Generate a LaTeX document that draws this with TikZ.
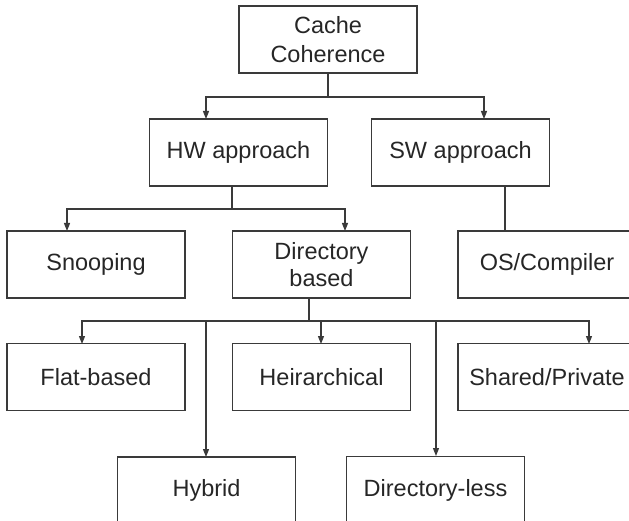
\documentclass[tikz,border=0pt]{standalone}
\usepackage{fontspec}
\setmainfont{Liberation Sans}
\usetikzlibrary{arrows.meta}
\definecolor{ink}{HTML}{262626}
\definecolor{wire}{HTML}{3A3A3A}
\begin{document}
\begin{tikzpicture}[x=1pt,y=-1pt,
  box/.style={draw=wire, line width=1.3pt, minimum width=178pt, minimum height=67pt,
    inner sep=0pt, align=center, text=ink, font=\fontsize{23.5}{27.5}\selectfont},
  link/.style={draw=wire, line width=1.3pt},
  arr/.style={link, -{Triangle[width=6pt,length=8pt]}}]
\useasboundingbox (0,0) rectangle (629,521);
\clip (0,0) rectangle (629,521);

% boxes
\node[box, font=\fontsize{23.5}{29}\selectfont] (cache) at (328,39.5) {Cache\\Coherence};
\node[box] (hw)      at (238.5,152.5) {HW approach};
\node[box] (sw)      at (460.5,152.5) {SW approach};
\node[box] (snoop)   at (96,264.5)    {Snooping};
\node[box] (dir)     at (321.5,264.5) {Directory\\based};
\node[box] (os)      at (547,264.5)   {OS/Compiler};
\node[box] (flat)    at (96,377)      {Flat-based};
\node[box] (heir)    at (321.5,377)   {Heirarchical};
\node[box] (shared)  at (547,377)     {Shared/Private};
\node[box] (hybrid)  at (206.5,490.5) {Hybrid};
\node[box] (dirless) at (435.5,490)   {Directory-less};

% junctions and arrow landing points
\coordinate (j1) at (328,97);
\coordinate (hwin) at (206,119);
\coordinate (swin) at (484,119);
\coordinate (hwout) at (232,186);
\coordinate (j2) at (232,209);
\coordinate (snoopin) at (67,231);
\coordinate (dirin) at (345,231);
\coordinate (swout) at (505,186);
\coordinate (osin) at (505,231);
\coordinate (dirout) at (309,298);
\coordinate (j3) at (309,321);
\coordinate (flatin) at (82,344);
\coordinate (heirin) at (321,344);
\coordinate (sharedin) at (589,344);
\coordinate (hybridin) at (206,457);
\coordinate (dirlessin) at (436,456);

% connectors
\draw[link] (cache.south) -- (j1);
\draw[arr] (j1) -| (hwin);
\draw[arr] (j1) -| (swin);

\draw[link] (hwout) -- (j2);
\draw[arr] (j2) -| (snoopin);
\draw[arr] (j2) -| (dirin);

\draw[link] (swout) -- (osin);

\draw[link] (dirout) -- (j3);
\draw[arr] (j3) -| (flatin);
\draw[arr] (j3) -| (hybridin);
\draw[arr] (j3) -| (heirin);
\draw[arr] (j3) -| (dirlessin);
\draw[arr] (j3) -| (sharedin);
\end{tikzpicture}
\end{document}
